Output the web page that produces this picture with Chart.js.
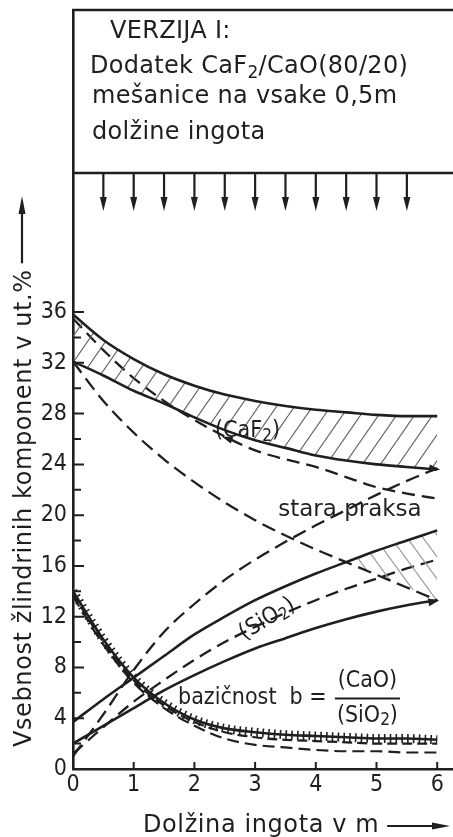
<!DOCTYPE html>
<html>
<head>
<meta charset="utf-8">
<script src="https://cdn.jsdelivr.net/npm/chart.js"></script>
<style>
body { margin: 0; background: #fff; }
</style>
</head>
<body>
<canvas id="myChart" width="453" height="837"></canvas>
<script>
'use strict';
// dolzina ingota (m)
const lengthM = [0, 0.5, 1, 1.5, 2, 2.5, 3, 3.5, 4, 4.5, 5, 5.5, 6];

// CaF2 pas (srafirano) + stara praksa
const caf2Upper = [35.8, 33.8, 32.3, 31.1, 30.2, 29.5, 29.0, 28.6, 28.3, 28.1, 27.9, 27.8, 27.8];
const caf2Lower = [32.1, 31.0, 29.8, 28.8, 27.7, 26.7, 25.9, 25.3, 24.7, 24.3, 24.0, 23.8, 23.6];
const caf2Dashed = [35.5, 33.0, 30.8, 29.0, 27.5, 26.2, 25.1, 24.4, 23.8, 23.0, 22.2, 21.7, 21.3];
const caf2Old = [32.1, 29.0, 26.5, 24.4, 22.6, 21.0, 19.6, 18.4, 17.3, 16.3, 15.3, 14.3, 13.3];

// SiO2
const sio2Old = [1.0, 4.3, 7.8, 10.8, 13.0, 14.9, 16.5, 17.9, 19.2, 20.4, 21.6, 22.7, 23.7];
const sio2Upper = [3.7, 5.5, 7.2, 8.9, 10.6, 12.0, 13.3, 14.4, 15.4, 16.3, 17.2, 18.0, 18.8];
const sio2Dashed = [1.2, 3.3, 5.3, 7.0, 8.6, 10.0, 11.2, 12.3, 13.3, 14.2, 15.0, 15.8, 16.5];
const sio2Lower = [2.0, 3.4, 4.8, 6.2, 7.4, 8.5, 9.5, 10.3, 11.1, 11.8, 12.4, 12.9, 13.3];

// bazicnost
const basicity = [14.0, 10.2, 7.2, 5.2, 3.9, 3.2, 2.9, 2.7, 2.6, 2.5, 2.4, 2.4, 2.3];
const basicityA = [13.8, 10.0, 7.0, 5.0, 3.7, 2.9, 2.5, 2.3, 2.2, 2.1, 2.0, 2.0, 2.0];
const basicityB = [13.6, 9.8, 6.8, 4.8, 3.4, 2.4, 1.9, 1.7, 1.5, 1.4, 1.4, 1.3, 1.3];

const yLabels = [0, 4, 8, 12, 16, 20, 24, 28, 32, 36];
const xLabels = [0, 1, 2, 3, 4, 5, 6];
const addAt = [0.5, 1, 1.5, 2, 2.5, 3, 3.5, 4, 4.5, 5, 5.5];

const ink = '#1f1f1f';
const fam = '"DejaVu Sans Condensed", "DejaVu Sans", sans-serif';
const wide = '"DejaVu Sans", sans-serif';

function pts(arr) {
    return lengthM.map((x, i) => ({ x: x, y: arr[i] }));
}

function hatch(w, h, color, back) {
    let c = document.createElement('canvas');
    c.width = w;
    c.height = h;
    let g = c.getContext('2d');
    g.strokeStyle = color;
    g.lineWidth = 1.2;
    g.beginPath();
    if (back) {
        g.moveTo(-w, 0); g.lineTo(0, h);
        g.moveTo(0, 0); g.lineTo(w, h);
        g.moveTo(w, 0); g.lineTo(2 * w, h);
    } else {
        g.moveTo(-w, h); g.lineTo(0, 0);
        g.moveTo(0, h); g.lineTo(w, 0);
        g.moveTo(w, h); g.lineTo(2 * w, 0);
    }
    g.stroke();
    return g.createPattern(c, 'repeat');
}

function line(data, dash, width) {
    return {
        data: pts(data),
        borderColor: ink,
        borderWidth: width || 2.6,
        borderDash: dash || [],
        pointRadius: 0,
        fill: false,
        cubicInterpolationMode: 'monotone'
    };
}

// tekst z indeksi: [['(CaF',0],['2',1],[')',0]]
function rich(ctx, parts, x, y, size, face) {
    let cx = x;
    for (let i = 0; i < parts.length; i++) {
        let sub = parts[i][1];
        ctx.font = (sub ? Math.round(size * 0.72) : size) + 'px ' + (face || fam);
        ctx.fillText(parts[i][0], cx, y + (sub ? size * 0.22 : 0));
        cx += ctx.measureText(parts[i][0]).width;
    }
    return cx - x;
}

function richWidth(ctx, parts, size, face) {
    let w = 0;
    for (let i = 0; i < parts.length; i++) {
        ctx.font = (parts[i][1] ? Math.round(size * 0.72) : size) + 'px ' + (face || fam);
        w += ctx.measureText(parts[i][0]).width;
    }
    return w;
}

function arrowHead(ctx, x, y, ang, len, wid) {
    ctx.save();
    ctx.translate(x, y);
    ctx.rotate(ang);
    ctx.beginPath();
    ctx.moveTo(0, 0);
    ctx.lineTo(-len, -wid / 2);
    ctx.lineTo(-len, wid / 2);
    ctx.closePath();
    ctx.fill();
    ctx.restore();
}

const sketch = {
    id: 'sketch',
    afterDraw(chart) {
        const ctx = chart.ctx;
        const xs = chart.scales.x;
        const ys = chart.scales.y;
        const area = chart.chartArea;
        const x0 = xs.getPixelForValue(0);
        const y0 = ys.getPixelForValue(0);
        ctx.save();
        ctx.strokeStyle = ink;
        ctx.fillStyle = ink;
        ctx.lineCap = 'butt';

        // notranje oznake na oseh
        ctx.lineWidth = 2;
        ctx.beginPath();
        for (let v = 2; v <= 36; v += 2) {
            let py = ys.getPixelForValue(v);
            ctx.moveTo(x0, py);
            ctx.lineTo(x0 + (v % 4 === 0 ? 11 : 8), py);
        }
        for (let i = 1; i < xLabels.length; i++) {
            let px = xs.getPixelForValue(xLabels[i]);
            ctx.moveTo(px, y0);
            ctx.lineTo(px, y0 - 7);
        }
        ctx.stroke();

        // okvir zgoraj
        const sepY = 173;
        ctx.lineWidth = 2.5;
        ctx.beginPath();
        ctx.moveTo(x0 - 1, area.top);
        ctx.lineTo(chart.width, area.top);
        ctx.moveTo(x0 - 1, sepY);
        ctx.lineTo(chart.width, sepY);
        ctx.stroke();

        ctx.textBaseline = 'alphabetic';
        ctx.textAlign = 'left';
        ctx.letterSpacing = '0.3px';
        ctx.font = '24px ' + wide;
        ctx.fillText('VERZIJA I:', 110, 38);
        rich(ctx, [['Dodatek CaF', 0], ['2', 1], ['/CaO(80/20)', 0]], 90, 73, 24, wide);
        ctx.font = '24px ' + wide;
        ctx.fillText('mešanice na vsake 0,5m', 92, 103);
        ctx.fillText('dolžine ingota', 92, 139);
        ctx.letterSpacing = '0px';

        // puscice dodatkov
        ctx.lineWidth = 2.2;
        for (let i = 0; i < addAt.length; i++) {
            let px = xs.getPixelForValue(addAt[i]);
            ctx.beginPath();
            ctx.moveTo(px, sepY);
            ctx.lineTo(px, 200);
            ctx.stroke();
            arrowHead(ctx, px, 211, Math.PI / 2, 14, 7);
        }

        // puscici na koncih krivulj
        const last = lengthM.length - 1;
        arrowHead(ctx, xs.getPixelForValue(lengthM[last]) + 3, ys.getPixelForValue(caf2Lower[last]), 0.1, 11, 8);
        arrowHead(ctx, xs.getPixelForValue(lengthM[last]) + 2, ys.getPixelForValue(sio2Lower[last]), -0.2, 11, 8);
        arrowHead(ctx, xs.getPixelForValue(2.45), ys.getPixelForValue(26.2), Math.PI + 0.35, 11, 7);

        // napisi v diagramu
        ctx.textBaseline = 'middle';
        rich(ctx, [['(CaF', 0], ['2', 1], [')', 0]], xs.getPixelForValue(2.34), ys.getPixelForValue(26.6), 23);
        ctx.font = '23px ' + wide;
        ctx.fillText('stara praksa', xs.getPixelForValue(3.38), ys.getPixelForValue(20.4));

        ctx.save();
        ctx.translate(xs.getPixelForValue(3.2), ys.getPixelForValue(11.8));
        ctx.rotate(-0.55);
        let sw = richWidth(ctx, [['(SiO', 0], ['2', 1], [')', 0]], 23);
        rich(ctx, [['(SiO', 0], ['2', 1], [')', 0]], -sw / 2, 0, 23);
        ctx.restore();

        ctx.font = '23px ' + fam;
        ctx.fillText('bazičnost  b =', xs.getPixelForValue(1.73), ys.getPixelForValue(5.6));
        let fx = xs.getPixelForValue(4.85);
        let cw = richWidth(ctx, [['(CaO)', 0]], 23);
        rich(ctx, [['(CaO)', 0]], fx - cw / 2, ys.getPixelForValue(6.9), 23);
        let bw = richWidth(ctx, [['(SiO', 0], ['2', 1], [')', 0]], 23);
        rich(ctx, [['(SiO', 0], ['2', 1], [')', 0]], fx - bw / 2, ys.getPixelForValue(4.2), 23);
        ctx.lineWidth = 2;
        ctx.beginPath();
        ctx.moveTo(fx - bw / 2 - 2, ys.getPixelForValue(5.55));
        ctx.lineTo(fx + bw / 2 + 2, ys.getPixelForValue(5.55));
        ctx.stroke();

        // naslovi osi
        ctx.textBaseline = 'alphabetic';
        ctx.font = '24px ' + wide;
        ctx.letterSpacing = '0.6px';
        let yt = 'Vsebnost žlindrinih komponent v ut.%';
        let tw = ctx.measureText(yt).width;
        ctx.save();
        ctx.translate(31, 747);
        ctx.rotate(-Math.PI / 2);
        ctx.fillText(yt, 0, 0);
        ctx.restore();
        ctx.lineWidth = 2.2;
        ctx.beginPath();
        ctx.moveTo(22, 747 - tw - 6);
        ctx.lineTo(22, 212);
        ctx.stroke();
        arrowHead(ctx, 22, 196, -Math.PI / 2, 18, 7);

        let xt = 'Dolžina ingota v m';
        ctx.fillText(xt, 143, 832);
        let xw = ctx.measureText(xt).width;
        ctx.letterSpacing = '0px';
        ctx.beginPath();
        ctx.moveTo(143 + xw + 8, 826);
        ctx.lineTo(432, 826);
        ctx.stroke();
        arrowHead(ctx, 450, 826, 0, 18, 7);

        ctx.restore();
    }
};

let context = document.getElementById('myChart').getContext('2d');

let caf2Band = line(caf2Lower);
caf2Band.fill = '-1';
caf2Band.backgroundColor = hatch(18, 26, '#666');

// srafura med SiO2 zgornjo in staro prakso CaF2 (desno od presecisca)
let sio2Band = line(sio2Upper);
sio2Band.fill = { target: 3, above: hatch(16, 22, '#999', true), below: 'rgba(0,0,0,0)' };

let basicityTicks = line(basicity, [1.6, 4.2], 9);

let chartObject = {
    type: 'line',
    data: {
        datasets: [
            line(caf2Upper),
            caf2Band,
            line(caf2Dashed, [13, 7], 2.3),
            line(caf2Old, [14, 7], 2.3),
            line(sio2Old, [14, 7], 2.3),
            sio2Band,
            line(sio2Dashed, [13, 7], 2.3),
            line(sio2Lower),
            line(basicity),
            basicityTicks,
            line(basicityA, [10, 5], 2.2),
            line(basicityB, [12, 6], 2.2)
        ]
    },
    options: {
        responsive: false,
        animation: false,
        layout: { padding: { left: 0, right: 0, top: 10, bottom: 0 } },
        plugins: { legend: { display: false }, tooltip: { enabled: false } },
        scales: {
            x: {
                type: 'linear',
                min: 0,
                max: 6.26,
                afterFit: function (s) {
                    s.height = 68;
                    s.paddingLeft = 0;
                    s.paddingRight = 0;
                },
                grid: { display: false, drawTicks: false },
                border: { display: true, color: ink, width: 2.6 },
                ticks: {
                    stepSize: 1,
                    includeBounds: false,
                    autoSkip: false,
                    maxRotation: 0,
                    padding: 2,
                    color: ink,
                    font: { family: fam, size: 23 },
                    callback: function (v) { return xLabels.includes(v) ? String(v) : ''; }
                }
            },
            y: {
                type: 'linear',
                min: 0,
                max: 59.8,
                afterFit: function (s) {
                    s.width = 73;
                    s.paddingTop = 0;
                    s.paddingBottom = 0;
                },
                grid: { display: false, drawTicks: false },
                border: { display: true, color: ink, width: 2.6 },
                ticks: {
                    stepSize: 2,
                    includeBounds: false,
                    autoSkip: false,
                    padding: 6,
                    color: ink,
                    font: { family: fam, size: 23 },
                    callback: function (v) { return yLabels.includes(v) ? String(v) : ''; }
                }
            }
        }
    },
    plugins: [sketch]
};

let chart = new Chart(context, chartObject);
</script>
</body>
</html>
